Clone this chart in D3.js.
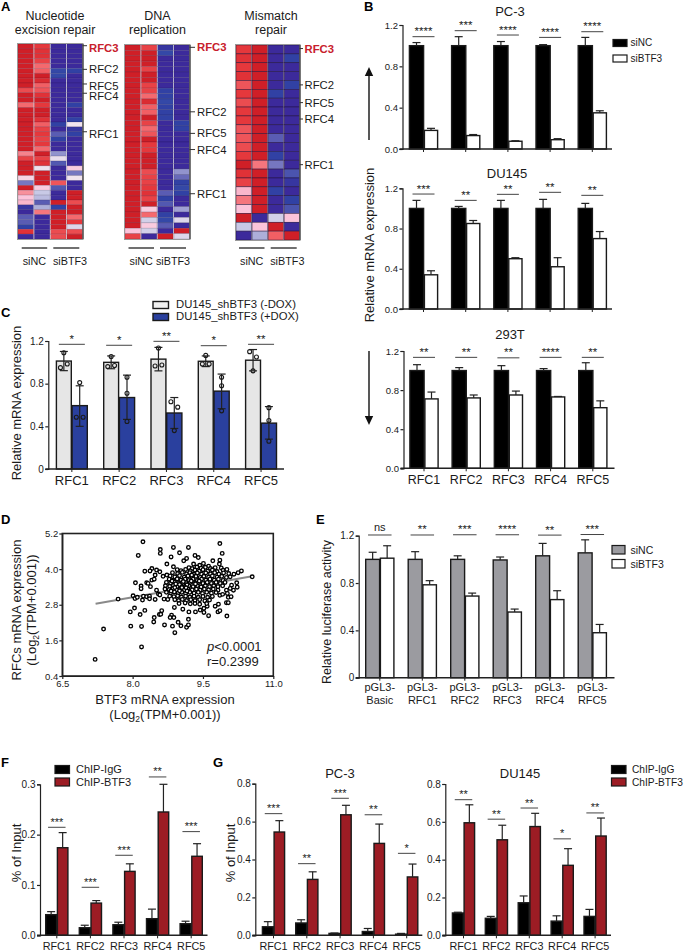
<!DOCTYPE html>
<html><head><meta charset="utf-8">
<script src="https://cdn.jsdelivr.net/npm/d3@7"></script>
<style>html,body{margin:0;background:#fff}svg{display:block;font-family:"Liberation Sans",Arial,sans-serif}</style>
</head><body><svg id="c" width="685" height="951"></svg>
<script>
// ---------- DATA ----------
const rfc = ["RFC1","RFC2","RFC3","RFC4","RFC5"];
const ticks12 = [0,0.4,0.8,1.2];
// Heatmaps (each column = one sample, rows top to bottom)
const nerCol1 = [1,1,1,1,1,1,1,1,1,.7,1,1,.55,1,1,1,1,1,1,1,1,1,.45,.75,1,1,1,.1,-.5,1,.4,.2,.25,-.95,-1,-.6,-.6,-.9,.85,-1];
const nerCol2 = [.8,.85,.85,.75,.55,.6,1,.9,.6,.65,.85,1,.8,1,1,.85,.6,.75,.8,.75,.8,.55,1,.75,.85,-.02,1,1,1,.15,-.2,-.25,-.6,-.3,.5,-1,-1,-1,-1,-1];
const nerCol3 = [-1,-1,-1,-1,-1,-.85,-.85,-1,-1,-1,-1,-1,-1,-1,-1,-1,-.9,-1,-.6,-.9,-1,-1,-.4,-.05,-.65,-1,-1,-1,.65,-.65,-1,-1,1,-.9,1,1,1,1,.7,.7];
const nerCol4 = [-1,-1,-1,-1,-1,-.9,-1,-1,-1,-1,-1,-1,-.9,-1,-1,-.9,0,-.95,-.9,-1,-1,-1,-1,-1,-1,.15,-.5,0,-1,-1,1,1,.7,1,1,.55,.8,-.1,.7,1];
const repCol1 = [1,1,1,1,1,1,1,1,1,1,1,1,1,1,1,1,1,1,1,1,1,1,1,1,1,1,1,1,1,1,1,1,1,1,.2,.75];
const repCol2 = [.75,1,1,1,.75,1,1,.75,.75,.55,.9,.6,.6,1,.75,.55,.65,1,.8,.8,1,1,1,.7,.75,.75,.8,.85,.75,1,.15,.55,-.15,.15,-.15,-1];
const repCol3 = [-.95,-.85,-1,-1,-1,-1,-1,-1,-.9,-.9,-.85,-.9,-.9,-.9,-1,-1,-1,-1,-1,-1,-1,-1,-1,-1,-1,-1,-1,-.6,-.9,-.65,-1,-.9,-.85,-.6,-1,1];
const repCol4 = [-1,-1,-1,-1,-1,-1,-1,-1,-1,-1,-1,-1,-1,-1,-.9,-.9,-1,-1,-1,-1,-1,-1,-1,-.4,-.55,-.9,-.85,-.9,-1,-1,-.35,-1,-.1,-1,1,-.1];
const mmrCol1 = [.8,.85,.8,.85,.65,.8,.7,.8,.8,.65,.65,.7,.8,1,.85,.75,.25,.5,.2,1,-.2,-1];
const mmrCol2 = [1,1,1,1,1,1,1,1,1,1,1,1,1,.5,1,1,1,1,1,-1,.2,-.3];
const mmrCol3 = [-1,-1,-1,-1,-1,-.9,-1,-1,-1,-1,-.6,-1,-.9,-.5,-1,-1,-.9,-1,-1,-.15,1,.6];
const mmrCol4 = [-1,-.9,-1,-1,-.9,-1,-1,-1,-1,-1,-1,-1,-1,-1,-.7,-.95,-1,-.9,-.7,.2,-1,1];
const heatHeadings = [["Nucleotide","excision repair"],["DNA","replication"],["Mismatch","repair"]];
const heatGenes = ["RFC3","RFC2","RFC5","RFC4","RFC1"];
const nerGeneRows = [.35,5.2,8.2,10.1,18];
const repGeneRows = [.43,12.4,16.4,19.4,27.6];
const mmrGeneRows = [.4,4.5,6.5,8.35,13.5];
const groupLabels = ["siNC","siBTF3"];

// Panel B
const pc3NC=[1,1,1,1,1], pc3NCTop=[1.03,1.087,1.04,1.01,1.08], pc3KD=[.18,.13,.075,.09,.35], pc3KDTop=[.2,.14,.08,.1,.37];
const pc3Sig=[1.087,1.145,1.103,1.08,1.135], pc3Stars=["****","***","****","****","****"];
const duNC=[1,1,1,1,1], duNCTop=[1.08,1.02,1.08,1.09,1.05], duKD=[.34,.85,.5,.42,.7], duKDTop=[.38,.88,.51,.51,.77];
const duSig=[1.143,1.08,1.14,1.16,1.13], duStars=["***","**","**","**","**"];
const t293NC=[1,1,1,1,1], t293NCTop=[1.06,1.03,1.05,1.02,1.08], t293KD=[.71,.72,.75,.73,.62], t293KDTop=[.78,.75,.79,.735,.69];
const t293Sig=[1.135,1.135,1.13,1.135,1.135], t293Stars=["**","**","**","****","**"];
// Panel C
const doxOff=[1.012,1,1.03,1.01,1.02], doxOffErr=[.09,.06,.11,.05,.1];
const doxOn=[.594,.67,.525,.73,.43], doxOnLo=[.4,.465,.38,.565,.28], doxOnHi=[.78,.88,.67,.89,.585];
const doxOffPts=[[1.09,.95,.985],[1.055,.96,.97],[1.135,.965,.975],[1.065,.985,.985],[1.1,1.05,.92]];
const doxOnPts=[[.81,.485,.485],[.86,.71,.445],[.63,.58,.36],[.86,.78,.545],[.575,.455,.26]];
const doxSig=[1.169,1.16,1.197,1.156,1.169], doxStars=["*","*","**","*","**"];
// Panel D
const regLine=[[7.21,2.83],[10.55,3.76]];
const scatterPts=[[7.2,.96],[7.38,1.98],[7.69,2.99],[8.19,1.38],[8.22,4.92],[8.12,4.46],[8.59,4.66],[8.59,4.53],[8.87,4.73],[9.19,4.73],[9,4.55],[8.82,4.41],[9.86,4.86],[9.91,4.53],[9.33,4.46],[9.4,4.39],[9.15,4.36],[9.09,4.28],[9.71,4.28],[9.86,4.3],[9.85,4.17],[8.73,4.17],[8.87,4.08],
[8.41,4.02],[8.26,3.93],[8.37,3.94],[8.51,3.97],[8.58,3.91],[8.65,3.76],[8.73,3.8],[8.48,3.8],[8.41,3.63],[8.46,3.66],[8.06,3.54],[8.3,3.54],[8.33,3.52],[8.18,3.43],[8.18,3.34],[8.38,3.41],[8.51,3.29],[8.55,3.16],[8.01,3.1],[8.05,3.01],[8.1,3.05],[8.21,2.96],[8.23,3.09],[8.3,3.07],[8.36,3.09],[8.36,3],[8.48,2.98],[8.58,3.13],[8.67,2.99],[8.75,2.98],
[8.04,2.69],[7.95,2.56],[8.16,2.47],[8.26,2.61],[8.46,2.37],[8.45,2.22],[8.57,2.47],[8.62,2.6],[8.6,2.48],[8.89,2.71],[8.83,2.45],[8.8,2.37],[8.88,2.37],[7.96,2.08],[8.19,2.07],[8.68,2.12],[8.85,2.08],[8.9,1.86],[8.97,2.21],[9.03,2.09],[9.15,2.04],[9.19,2.12],[9.19,2.31],[9.07,2.65],[9.2,2.56],[9.34,2.56],[9.44,2.62],[9.52,2.54],[9.62,2.43],[9.52,2.68],[9.59,2.75],[9.76,2.75],[9.83,2.82],[9.82,2.56],[9.86,2.6],[10.01,2.42],[10,2.87],[10.04,2.87],[10.04,3.05],[10.1,3.07],[9.86,3.12],[9.92,3.15],
[10.16,3.83],[10.25,3.88],[10.32,3.94],[10.55,3.74],[10.08,3.74],[10.22,3.54],[10.23,3.39],[10.11,3.46],[10.15,3.29],[10.08,3.35],[10,3.29],[10.02,3.18],
[9.3,4.17],[9.43,4.13],[9.51,4.19],[9.62,4.1],[9.2,4.05],[9.27,4.02],[9.37,4.07],[9.46,4.03],[9.55,4.06],[9.66,4.02],[9.76,4.05],[9.89,4.04],[8.95,3.98],[9.03,3.95],[9.13,3.99],[9.23,3.94],[9.33,3.97],[9.42,3.93],[9.5,3.98],[9.6,3.93],[9.7,3.97],[9.8,3.92],[9.93,3.96],[10.01,3.99],
[8.85,3.88],[8.96,3.85],[9.06,3.89],[9.15,3.84],[9.22,3.88],[9.3,3.83],[9.38,3.87],[9.47,3.83],[9.56,3.87],[9.66,3.84],[9.75,3.88],[9.84,3.83],[9.94,3.87],[10.05,3.85],
[8.8,3.77],[8.9,3.74],[9,3.78],[9.1,3.73],[9.18,3.77],[9.27,3.73],[9.35,3.76],[9.44,3.72],[9.52,3.76],[9.62,3.73],[9.7,3.77],[9.8,3.73],[9.9,3.76],[10,3.72],
[8.78,3.66],[8.86,3.63],[8.95,3.67],[9.03,3.63],[9.12,3.66],[9.2,3.62],[9.29,3.66],[9.38,3.62],[9.47,3.66],[9.56,3.63],[9.65,3.66],[9.74,3.63],[9.83,3.66],[9.93,3.62],
[8.72,3.55],[8.81,3.53],[8.89,3.56],[8.97,3.52],[9.06,3.55],[9.14,3.51],[9.23,3.55],[9.32,3.52],[9.41,3.55],[9.5,3.52],[9.59,3.55],[9.68,3.52],[9.78,3.55],[9.87,3.52],[9.97,3.55],
[8.7,3.44],[8.79,3.42],[8.87,3.45],[8.95,3.41],[9.03,3.44],[9.11,3.4],[9.2,3.44],[9.29,3.41],[9.38,3.44],[9.46,3.4],[9.55,3.44],[9.64,3.41],[9.73,3.44],[9.82,3.41],[9.92,3.44],
[8.69,3.33],[8.78,3.31],[8.86,3.34],[8.94,3.3],[9.02,3.33],[9.1,3.29],[9.18,3.33],[9.27,3.3],[9.36,3.33],[9.44,3.29],[9.53,3.33],[9.62,3.3],[9.72,3.33],[9.82,3.29],
[8.72,3.22],[8.81,3.2],[8.89,3.23],[8.97,3.19],[9.05,3.22],[9.13,3.18],[9.22,3.22],[9.31,3.19],[9.4,3.22],[9.49,3.18],[9.58,3.22],[9.68,3.19],[9.78,3.21],
[8.79,3.09],[8.88,3.07],[8.96,3.1],[9.04,3.06],[9.13,3.09],[9.22,3.06],[9.31,3.09],[9.4,3.05],[9.5,3.08],[9.6,3.05],[9.7,3.08],
[8.9,2.97],[8.98,2.94],[9.06,2.98],[9.15,2.94],[9.24,2.97],[9.33,2.94],[9.43,2.97],[9.54,2.93],[9.64,2.96],[8.99,2.84],[9.12,2.86],[9.23,2.83],[9.33,2.84],[9.43,2.82],[9.58,2.84],
[8.84,3.6],[8.92,3.5],[9,3.48],[9.08,3.58],[9.16,3.47],[9.25,3.6],[9.05,3.38],[8.9,3.38],[9.14,3.37],[8.82,3.26],[9,3.27],[9.16,3.26],[9.34,3.5],[9.42,3.6],[9.26,3.8]];
// Panel E
const lucCats=[["pGL3-","Basic"],["pGL3-","RFC1"],["pGL3-","RFC2"],["pGL3-","RFC3"],["pGL3-","RFC4"],["pGL3-","RFC5"]];
const lucNC=[1,1,1,.995,1.03,1.055], lucNCTop=[1.06,1.065,1.03,1.02,1.135,1.165];
const lucKD=[1.01,.785,.69,.555,.66,.38], lucKDTop=[1.115,.82,.715,.58,.735,.45];
const lucSig=[1.206,1.206,1.208,1.208,1.205,1.21], lucStars=["ns","**","***","****","**","***"];
// Panel F
const fIgG=[.041,.015,.021,.033,.023], fIgGTop=[.047,.02,.026,.052,.028], fBTF=[.174,.064,.127,.245,.157], fBTFTop=[.204,.069,.142,.3,.182];
const fSig=[.2146,.0954,.159,.3146,.206], fStars=["***","***","***","**","***"];
// Panel G
const gpIgG=[.045,.065,.01,.02,.006], gpIgGTop=[.072,.082,.012,.036,.01], gpBTF=[.545,.295,.636,.485,.308], gpBTFTop=[.605,.335,.686,.587,.376];
const gpSig=[.642,.378,.723,.636,.4325], gpStars=["***","**","***","**","*"];
const gdIgG=[.118,.09,.172,.075,.1], gdIgGTop=[.122,.1,.208,.103,.137], gdBTF=[.595,.505,.575,.37,.525], gdBTFTop=[.69,.582,.645,.458,.62];
const gdSig=[.717,.614,.673,.51,.647], gdStars=["**","**","**","*","**"];

// ---------- DRAW ----------
const svg=d3.select("#c");
const INK="#1a1a1a";
function txt(x,y,s,o={}){
  const t=svg.append("text").attr("x",x).attr("y",y).text(s)
    .attr("font-size",o.size||13).attr("fill",o.fill||INK)
    .attr("text-anchor",o.anchor||"start");
  if(o.bold)t.attr("font-weight","bold");
  if(o.style)t.attr("font-style",o.style);
  if(o.rot)t.attr("transform",`rotate(${o.rot} ${x} ${y})`);
  return t;
}
function hline(x1,x2,y,w=1,c=INK){svg.append("line").attr("x1",x1).attr("x2",x2).attr("y1",y).attr("y2",y).attr("stroke",c).attr("stroke-width",w);}
[["A",1,11],["B",364,11],["C",1,317],["D",1,524],["E",316,524],["F",1,767],["G",213,767]]
  .forEach(d=>txt(d[1],d[2],d[0],{size:13,bold:true,fill:"#000"}));

// heatmaps
const heatColor=d3.scaleLinear()
  .domain([-1,-.88,-.6,-.2,0,.2,.55,.8,1])
  .range(["#3c2a9b","#2f46a6","#5a5cb3","#c8c9e6","#f1e4ee","#fbc4da","#f4696e","#e5383c","#cf1f27"]);
function heatmap(cols,x0,x1,y0,y1,sep,gene,head,hx,tickEnd,labX,lines,labShift){
  const n=cols[0].length;
  const X=d3.scaleBand().domain(d3.range(4)).range([x0,x1]).paddingInner(.05);
  const Y=d3.scaleBand().domain(d3.range(n)).range([y0,y1]);
  cols.forEach((c,i)=>{
    svg.append("g").selectAll("rect").data(c).join("rect")
      .attr("x",X(i)).attr("width",X.bandwidth())
      .attr("y",(d,r)=>Y(r)).attr("height",Y.bandwidth())
      .attr("fill",d=>heatColor(d))
      .attr("stroke",`rgba(25,10,50,${sep})`).attr("stroke-width",.6);
  });
  svg.append("rect").attr("x",x0-.5).attr("y",y0-.5).attr("width",x1-x0+1).attr("height",y1-y0+1)
    .attr("fill","none").attr("stroke","#9a9a9a").attr("stroke-width",1);
  svg.append("line").attr("x1",x1+.5).attr("x2",x1+.5).attr("y1",y0).attr("y2",y1).attr("stroke","#222").attr("stroke-width",1);
  heatGenes.forEach((g,i)=>{
    const ty=Y(Math.floor(gene[i]))+ (gene[i]%1)*Y.bandwidth();
    hline(x1,tickEnd,ty,1,"#333");
    txt(labX,ty+4+labShift[i],g,{size:11.3,bold:i==0,fill:i==0?"#c8202c":INK});
  });
  txt(hx,20,head[0],{anchor:"middle",size:12.5});
  txt(hx,34,head[1],{anchor:"middle",size:12.5});
  hline(lines[0],lines[0]+25.5,248,1.2,"#111");
  hline(lines[1],lines[1]+26,248,1.2,"#111");
  txt(lines[0]+12.7,265,groupLabels[0],{anchor:"middle",size:10.8});
  txt(lines[1]+13+lines[2],265,groupLabels[1],{anchor:"middle",size:10.8});
}
heatmap([nerCol1,nerCol2,nerCol3,nerCol4],18,82.5,44,239,.22,nerGeneRows,heatHeadings[0],55,87,89,[21.7,53.3,3.7],[2,0,2.5,2.5,2.5]);
heatmap([repCol1,repCol2,repCol3,repCol4],125,189.5,45,239,.25,repGeneRows,heatHeadings[1],157.5,195,197,[128.5,160,0],[0,0,0,0,0]);
heatmap([mmrCol1,mmrCol2,mmrCol3,mmrCol4],236,299.5,45,240,.75,mmrGeneRows,heatHeadings[2],271,303,304.5,[239,270.7,3.6],[0,0,0,0,0]);

// generic grouped bar panel
function bars(o){
  const y=d3.scaleLinear().domain(o.dom).range([o.yb,o.yt]);
  const groupW=o.w1+o.w2;
  const x=d3.scaleBand().domain(o.cats.map((c,i)=>i)).range([o.barLeft-(o.step-groupW)/2,o.barLeft-(o.step-groupW)/2+o.step*o.cats.length]);
  const sw=o.sw||1.4;
  const g=svg.append("g");
  [[o.a,o.aFill,0,o.w1],[o.b,o.bFill,o.w1,o.w2]].forEach(([vals,fill,off,w])=>{
    g.append("g").selectAll("rect").data(vals).join("rect")
      .attr("x",(d,i)=>x(i)+(o.step-groupW)/2+off+.4).attr("width",w-.8)
      .attr("y",d=>y(d)).attr("height",d=>y(0)-y(d))
      .attr("fill",fill).attr("stroke",o.barStroke||"#1a1a1a").attr("stroke-width",sw);
  });
  const err=(tops,lows,off,w,col)=>{
    tops.forEach((t,i)=>{
      const cx=x(i)+(o.step-groupW)/2+off+w/2;
      const lo=lows[i];
      g.append("line").attr("x1",cx).attr("x2",cx).attr("y1",y(lo)).attr("y2",y(t)).attr("stroke",col).attr("stroke-width",1.2);
      g.append("line").attr("x1",cx-4).attr("x2",cx+4).attr("y1",y(t)).attr("y2",y(t)).attr("stroke",col).attr("stroke-width",1.2);
      if(o.caps)g.append("line").attr("x1",cx-4).attr("x2",cx+4).attr("y1",y(lo)).attr("y2",y(lo)).attr("stroke",col).attr("stroke-width",1.2);
    });
  };
  err(o.aTop,o.aLow||o.a,0,o.w1,"#222");
  err(o.bTop,o.bLow||o.b,o.w1,o.w2,"#222");
  const sigW=o.sigW||22;
  o.sig.forEach((s,i)=>{
    const cx=x(i)+o.step/2;
    hline(cx-sigW/2,cx+sigW/2,y(s),1,"#444");
    const isNs=o.stars[i]==="ns";
    txt(cx,y(s)-(isNs?3.5:1.5),o.stars[i],{anchor:"middle",size:isNs?11:o.starSize||11.5});
  });
  const ya=d3.axisLeft(y).tickValues(o.ticks).tickSizeOuter(0).tickSize(3).tickPadding(1.5).tickFormat(o.fmt||(d=>d.toFixed(1)));
  const yg=svg.append("g").attr("transform",`translate(${o.xa},0)`).call(ya);
  yg.selectAll("text").attr("font-size",o.tickSize||9.5).attr("font-family","inherit").attr("fill",INK);
  yg.selectAll("path,line").attr("stroke","#222").attr("stroke-width",1.2);
  const xa=d3.axisBottom(x).tickSize(3).tickSizeOuter(0).tickFormat("");
  const xg=svg.append("g").attr("transform",`translate(0,${o.yb})`).call(xa);
  xg.select(".domain").remove();
  xg.selectAll("line").attr("stroke","#222").attr("stroke-width",1);
  hline(o.xa-3,o.xe,o.yb,1.4,"#222");
  if(o.labels){
    o.labels.forEach((l,i)=>{
      const cx=x(i)+o.step/2;
      if(Array.isArray(l)){
        txt(cx,o.yb+o.labDy,l[0],{anchor:"middle",size:o.labSize});
        txt(cx,o.yb+o.labDy+13,l[1],{anchor:"middle",size:o.labSize});
      } else txt(cx,o.yb+o.labDy,l,{anchor:"middle",size:o.labSize});
    });
  }
  return {x,y,g};
}
function legend(x,y1,y2,w,h,items,tx,size,fills,strokeW){
  [y1,y2].forEach((yy,i)=>{
    svg.append("rect").attr("x",x).attr("y",yy).attr("width",w).attr("height",h)
      .attr("fill",fills[i]).attr("stroke","#1a1a1a").attr("stroke-width",strokeW||1.2);
    txt(tx,yy+h-.5,items[i],{size});
  });
}
const bCommon={cats:rfc,dom:[0,1.2],w1:15,w2:14,step:42.2,aFill:"#000",bFill:"#fff",xa:402.5,ticks:ticks12};
bars({...bCommon,barLeft:409,yb:149,yt:25,a:pc3NC,aTop:pc3NCTop,b:pc3KD,bTop:pc3KDTop,sig:pc3Sig,stars:pc3Stars,xe:612});
txt(510,16,"PC-3",{anchor:"middle",size:13});
bars({...bCommon,barLeft:409,yb:309,yt:188.3,a:duNC,aTop:duNCTop,b:duKD,bTop:duKDTop,sig:duSig,stars:duStars,xe:612});
txt(507,178,"DU145",{anchor:"middle",size:13});
bars({...bCommon,barLeft:409.5,xa:403.5,yb:468.3,yt:351,a:t293NC,aTop:t293NCTop,b:t293KD,bTop:t293KDTop,sig:t293Sig,stars:t293Stars,xe:614.5,labels:rfc,labDy:16,labSize:12.5});
txt(510,339,"293T",{anchor:"middle",size:13});
txt(374,245,"Relative mRNA expression",{anchor:"middle",size:13,rot:-90});
legend(613,39.5,55,14,7,["siNC","siBTF3"],630.5,10,["#000","#fff"]);
function arrow(x,y1,y2){
  const dir=y2<y1?1:-1;
  svg.append("line").attr("x1",x).attr("x2",x).attr("y1",y1).attr("y2",y2+dir*6).attr("stroke","#111").attr("stroke-width",1.4);
  svg.append("path").attr("d",`M${x},${y2}L${x-4.2},${y2+dir*9}L${x+4.2},${y2+dir*9}Z`).attr("fill","#111");
}
arrow(369,140,67);
arrow(369,351,425);

// Panel C
const cp=bars({cats:rfc,dom:[0,1.2],w1:15.7,w2:16,step:47.3,aFill:"#e6e6e6",bFill:"#2a409e",xa:48.3,ticks:ticks12,
  barLeft:56,yb:469,yt:341,a:doxOff,aTop:doxOff.map((d,i)=>d+doxOffErr[i]),aLow:doxOff.map((d,i)=>d-doxOffErr[i]),b:doxOn,bTop:doxOnHi,bLow:doxOnLo,caps:true,
  sig:doxSig,stars:doxStars,sigW:26,xe:284,labels:rfc,labDy:15.5,labSize:13,tickSize:10,
  fmt:d=>d===0?"0":d.toFixed(1)});
const jitterA=[[0,-3.4,3.4],[0,-3.4,3.4],[0,-3.4,3.4],[0,-3.4,3.4],[-3.4,3.4,0]];
const jitterB=[[0,-3.4,3.4],[0,0,0],[-3.4,3.4,0],[0,0,0],[0,0,0]];
[[doxOffPts,jitterA,0,15.7],[doxOnPts,jitterB,15.7,16]].forEach(([pts,jit,off,w])=>{
  pts.forEach((arr,i)=>{
    const cx=cp.x(i)+(47.3-31.7)/2+off+w/2;
    svg.append("g").selectAll("circle").data(arr).join("circle")
      .attr("cx",(d,k)=>cx+jit[i][k]).attr("cy",d=>cp.y(d)).attr("r",2)
      .attr("fill","none").attr("stroke","#1a1a1a").attr("stroke-width",1.1);
  });
});
legend(153,301.5,313.5,15.5,7,["DU145_shBTF3 (-DOX)","DU145_shBTF3 (+DOX)"],176,11.3,["#efefef","#2a409e"],1.4);
txt(21,403,"Relative mRNA expression",{anchor:"middle",size:13,rot:-90});

// Panel D
const sx=d3.scaleLinear().domain([6.5,11]).range([62.3,273.3]);
const sy=d3.scaleLinear().domain([.4,5.2]).range([676,533.5]);
svg.append("path").attr("d",d3.line().x(d=>sx(d[0])).y(d=>sy(d[1]))(regLine)).attr("stroke","#8a8a8a").attr("stroke-width",2).attr("fill","none");
svg.append("g").selectAll("circle").data(scatterPts).join("circle")
  .attr("cx",d=>sx(d[0])).attr("cy",d=>sy(d[1])).attr("r",1.8)
  .attr("fill","#fff").attr("stroke","#000").attr("stroke-width",1.35);
const dy=svg.append("g").attr("transform","translate(62.3,0)").call(d3.axisLeft(sy).tickValues([.4,1.6,2.8,4,5.2]).tickSize(3).tickSizeOuter(0).tickPadding(1).tickFormat(d3.format(".1f")));
const dx=svg.append("g").attr("transform","translate(0,676)").call(d3.axisBottom(sx).tickValues([6.5,8,9.5,11]).tickSize(3).tickSizeOuter(0).tickPadding(1).tickFormat(d3.format(".1f")));
[dy,dx].forEach(a=>{a.selectAll("text").attr("font-size",9.5).attr("font-family","inherit").attr("fill",INK);a.selectAll("path,line").attr("stroke","#222").attr("stroke-width",1.2);});
svg.append("rect").attr("x",62.3).attr("y",533.5).attr("width",211).attr("height",142.5).attr("fill","none").attr("stroke","#222").attr("stroke-width",1.6);
function logLabel(x,y,rot){
  const t=txt(x,y,"",{anchor:"middle",size:13,rot});
  t.append("tspan").text("(Log");
  t.append("tspan").text("2").attr("font-size",8.5).attr("dy",3);
  t.append("tspan").text("(TPM+0.001))").attr("dy",-3);
}
txt(165,704,"BTF3 mRNA expression",{anchor:"middle",size:13});
logLabel(165,719,0);
txt(21,610,"RFCs mRNA expression",{anchor:"middle",size:13,rot:-90});
logLabel(36,610,-90);
const pt=txt(207,651,"",{size:13});
pt.append("tspan").text("p").attr("font-style","italic"); pt.append("tspan").text("<0.0001");
txt(207,666,"r=0.2399",{size:13});

// Panel E
bars({cats:lucCats,dom:[0,1.2],w1:14.7,w2:14.3,step:42.5,aFill:"#9b9ba0",bFill:"#fff",xa:358.7,ticks:ticks12,
  barLeft:365.3,yb:677.7,yt:535.7,a:lucNC,aTop:lucNCTop,b:lucKD,bTop:lucKDTop,sig:lucSig,stars:lucStars,sigW:23.5,xe:614.5,
  labels:lucCats,labDy:13.5,labSize:11,tickSize:10,fmt:d=>d===0?"0":d.toFixed(1)});
txt(331,612,"Relative luciferase activity",{anchor:"middle",size:12.5,rot:-90});
legend(612,545.5,559.5,13,8.5,["siNC","siBTF3"],630.5,10.5,["#9b9ba0","#fff"]);

// Panel F, G
const RED="#9c1c24";
bars({cats:rfc,dom:[0,.3],w1:11.7,w2:11.3,step:33.6,aFill:"#000",bFill:RED,xa:40,ticks:[0,.1,.2,.3],barLeft:45.3,yb:935.3,yt:784.3,
  a:fIgG,aTop:fIgGTop,b:fBTF,bTop:fBTFTop,sig:fSig,stars:fStars,sigW:17.5,xe:207.5,labels:rfc,labDy:14.5,labSize:10.8,tickSize:10,starSize:11});
legend(55,765.5,778,14.5,8,["ChIP-IgG","ChIP-BTF3"],76,11,["#000",RED]);
txt(21,853,"% of Input",{anchor:"middle",size:13,rot:-90});
bars({cats:rfc,dom:[0,.8],w1:11.7,w2:11.3,step:33.3,aFill:"#000",bFill:RED,xa:255.3,ticks:[0,.2,.4,.6,.8],barLeft:262,yb:935.3,yt:783.7,
  a:gpIgG,aTop:gpIgGTop,b:gpBTF,bTop:gpBTFTop,sig:gpSig,stars:gpStars,sigW:17.5,xe:422.3,labels:rfc,labDy:14.5,labSize:10.8,tickSize:10,starSize:11});
txt(340,778,"PC-3",{anchor:"middle",size:13});
txt(235,853,"% of Input",{anchor:"middle",size:13,rot:-90});
bars({cats:rfc,dom:[0,.8],w1:11.7,w2:11.3,step:32.9,aFill:"#000",bFill:RED,xa:445.3,ticks:[0,.2,.4,.6,.8],barLeft:452,yb:935.3,yt:784,
  a:gdIgG,aTop:gdIgGTop,b:gdBTF,bTop:gdBTFTop,sig:gdSig,stars:gdStars,sigW:17.5,xe:611,labels:rfc,labDy:14.5,labSize:10.8,tickSize:10,starSize:11});
txt(520,778,"DU145",{anchor:"middle",size:13});
legend(611.5,765.5,778,14.5,8,["ChIP-IgG","ChIP-BTF3"],632,10.2,["#000",RED]);
</script></body></html>
